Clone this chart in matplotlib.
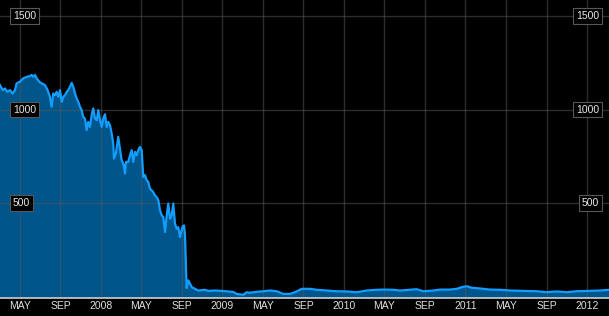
"""
Price history area chart, dark theme
"""
import matplotlib
matplotlib.use("Agg")
import matplotlib.pyplot as plt
import matplotlib.transforms as mtransforms

# time in decimal years
t_years = [
    2007.169, 2007.191, 2007.210, 2007.229, 2007.251, 2007.273, 2007.292, 2007.306,
    2007.333, 2007.360, 2007.388, 2007.416, 2007.430, 2007.443, 2007.457, 2007.471,
    2007.492, 2007.512, 2007.539, 2007.558, 2007.580, 2007.594, 2007.607, 2007.621,
    2007.635, 2007.649, 2007.663, 2007.677, 2007.690, 2007.704, 2007.718, 2007.731,
    2007.745, 2007.759, 2007.772, 2007.786, 2007.800, 2007.813, 2007.827, 2007.841,
    2007.854, 2007.868, 2007.882, 2007.895, 2007.909, 2007.923, 2007.937, 2007.951,
    2007.965, 2007.978, 2007.992, 2008.006, 2008.019, 2008.033, 2008.047, 2008.060,
    2008.074, 2008.088, 2008.101, 2008.107, 2008.123, 2008.142, 2008.156, 2008.170,
    2008.184, 2008.198, 2008.206, 2008.225, 2008.239, 2008.253, 2008.266, 2008.280,
    2008.294, 2008.307, 2008.321, 2008.335, 2008.348, 2008.362, 2008.376, 2008.389,
    2008.403, 2008.417, 2008.430, 2008.444, 2008.458, 2008.472, 2008.486, 2008.500,
    2008.513, 2008.527, 2008.541, 2008.554, 2008.568, 2008.582, 2008.595, 2008.609,
    2008.623, 2008.636, 2008.650, 2008.658, 2008.672, 2008.683, 2008.691, 2008.695,
    2008.705, 2008.719, 2008.733, 2008.747, 2008.774, 2008.801, 2008.856, 2008.883,
    2008.938, 2008.993, 2009.048, 2009.089, 2009.117, 2009.171, 2009.199, 2009.226,
    2009.281, 2009.336, 2009.391, 2009.446, 2009.500, 2009.556, 2009.597, 2009.652,
    2009.720, 2009.775, 2009.858, 2009.940, 2010.022, 2010.105, 2010.187, 2010.269,
    2010.323, 2010.406, 2010.461, 2010.543, 2010.598, 2010.653, 2010.735, 2010.790,
    2010.872, 2010.928, 2010.969, 2011.010, 2011.051, 2011.119, 2011.202, 2011.284,
    2011.366, 2011.476, 2011.586, 2011.668, 2011.751, 2011.833, 2011.915, 2012.025,
    2012.107, 2012.181,
]
price = [
    1131, 1104, 1113, 1095, 1104, 1086, 1104, 1140,
    1149, 1167, 1175, 1179, 1185, 1175, 1185, 1167,
    1149, 1140, 1131, 1108, 1068, 1015, 1086, 1077,
    1095, 1068, 1104, 1041, 1068, 1077, 1095, 1104,
    1122, 1143, 1122, 1086, 1060, 1041, 1015, 997,
    961, 952, 890, 934, 907, 970, 1006, 952,
    943, 997, 943, 907, 952, 975, 907, 934,
    917, 872, 818, 738, 765, 854, 792, 729,
    711, 658, 720, 720, 756, 783, 720, 774,
    756, 783, 800, 783, 640, 649, 622, 613,
    577, 568, 559, 541, 532, 515, 461, 434,
    425, 345, 434, 497, 416, 434, 497, 390,
    363, 371, 318, 338, 375, 380, 336, 250,
    45, 86, 68, 50, 41, 32, 36, 30,
    32, 30, 27, 24, 14, 9, 23, 20,
    25, 28, 32, 28, 14, 14, 23, 41,
    41, 36, 32, 28, 27, 23, 32, 36,
    37, 36, 32, 36, 39, 28, 32, 37,
    37, 41, 50, 55, 47, 43, 37, 36,
    32, 30, 28, 23, 27, 23, 28, 30,
    32, 36,
]

tick_pos = [2007 + 4 / 12, 2007 + 8 / 12, 2008, 2008 + 4 / 12, 2008 + 8 / 12,
            2009, 2009 + 4 / 12, 2009 + 8 / 12, 2010, 2010 + 4 / 12, 2010 + 8 / 12,
            2011, 2011 + 4 / 12, 2011 + 8 / 12, 2012]
tick_labels = ["MAY", "SEP", "2008", "MAY", "SEP", "2009", "MAY", "SEP",
               "2010", "MAY", "SEP", "2011", "MAY", "SEP", "2012"]
y_levels = [500, 1000, 1500]

plt.rcParams['font.family'] = ['Liberation Sans', 'DejaVu Sans']

fig = plt.figure(figsize=(6.09, 3.16), dpi=100, facecolor='black')
ax = fig.add_axes([0, 18 / 316, 1, 298 / 316])
ax.set_facecolor('black')

ax.fill_between(t_years, price, -50, color='#00558a', lw=0, zorder=1)
ax.plot(t_years, price, color='#129dff', lw=1.6, zorder=3)

ax.set_xlim(2007.169, 2012.181)
ax.set_ylim(-8, 1586)

ax.set_xticks(tick_pos)
ax.set_xticklabels(tick_labels)
ax.set_yticks(y_levels)
ax.set_yticklabels([])
ax.tick_params(axis='x', length=0, pad=2.0, labelsize=7.5, colors='#e0e0e0')
ax.tick_params(axis='y', length=0)

ax.set_axisbelow(False)
ax.grid(True, color='#5a5a5a', alpha=0.5, lw=1.0)

for side in ['top', 'left', 'right']:
    ax.spines[side].set_visible(False)
ax.spines['bottom'].set_color('#d0d0d0')
ax.spines['bottom'].set_linewidth(1.2)
ax.spines['bottom'].set_zorder(4)

# boxed value labels on both sides
trans = mtransforms.blended_transform_factory(ax.transAxes, ax.transData)
box = dict(boxstyle='square,pad=0.25', fc='black', ec='#585858', lw=0.8)
for v in y_levels:
    ax.text(13 / 609, v, str(v), transform=trans, ha='left', va='center',
            fontsize=7.5, color='#e8e8e8', bbox=box, zorder=5)
    ax.text(599 / 609, v, str(v), transform=trans, ha='right', va='center',
            fontsize=7.5, color='#e8e8e8', bbox=box, zorder=5)

fig.savefig("out.png", dpi=100, facecolor='black')
